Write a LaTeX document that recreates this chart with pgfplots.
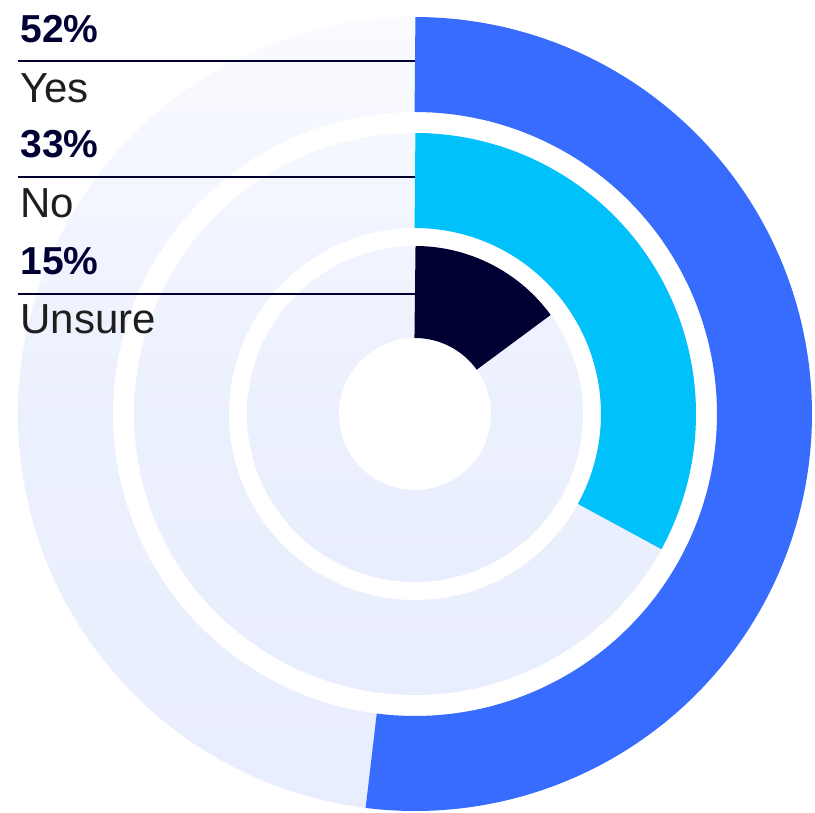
\documentclass[border=0pt]{standalone}
\usepackage{pgfplots}
\pgfplotsset{compat=1.18}
\usepgfplotslibrary{polar}
\usepackage{fontspec}
\setmainfont{Liberation Sans}
\definecolor{yesblue}{HTML}{386CFF}
\definecolor{nocyan}{HTML}{00C1FA}
\definecolor{navy}{HTML}{000033}
\definecolor{tracktop}{HTML}{FAFBFF}
\definecolor{trackbot}{HTML}{E9EEFE}
\definecolor{labelgray}{HTML}{1E1E1E}

\begin{document}
% 1 unit = 1 px of the 815x813 reference, origin at the centre of the rings
\begin{tikzpicture}[x=0.5pt,y=0.5pt]
\useasboundingbox (-415,-399) rectangle (400,414);
\begin{polaraxis}[
  at={(0,0)}, anchor=center,
  scale only axis, width=397pt, height=397pt,
  xmin=0, xmax=360, ymin=0, ymax=397,
  hide axis, clip=false,
  samples=240,
]
% background tracks (100%)
\addplot[draw=none, top color=tracktop, bottom color=trackbot, middle color=trackbot!86!tracktop, domain=0:360] {397};
\addplot[draw=none, fill=white, domain=0:360] {302};
\addplot[draw=none, top color=trackbot!25!tracktop, bottom color=trackbot, middle color=trackbot!86!tracktop, domain=0:360] {281};
\addplot[draw=none, fill=white, domain=0:360] {186};
\addplot[draw=none, top color=trackbot!50!tracktop, bottom color=trackbot, middle color=trackbot!86!tracktop, domain=0:360] {168};
\addplot[draw=none, fill=white, domain=0:360] {76};
% answers: Yes 52, No 33, Unsure 15 (percent, clockwise from the top)
\addplot[yesblue, line width=47.5pt, line cap=butt, domain=0:52] ({90-3.6*x}, {349.5});
\addplot[nocyan, line width=47.5pt, line cap=butt, domain=0:33] ({90-3.6*x}, {233.5});
\addplot[navy, line width=46pt, line cap=butt, domain=0:15] ({90-3.6*x}, {122});
\end{polaraxis}
\begin{scope}[font=\fontsize{21}{22}\selectfont]
\draw[navy, line width=1pt] (-397,353) -- (0,353);
\draw[navy, line width=1pt] (-397,237) -- (0,237);
\draw[navy, line width=1pt] (-397,120) -- (0,120);
\node[anchor=base west, inner sep=0pt, text=navy, font=\fontsize{19.5}{20}\selectfont\bfseries] at (-395,371) {52\%};
\node[anchor=base west, inner sep=0pt, text=labelgray] at (-395,311) {Yes};
\node[anchor=base west, inner sep=0pt, text=navy, font=\fontsize{19.5}{20}\selectfont\bfseries] at (-395,256) {33\%};
\node[anchor=base west, inner sep=0pt, text=labelgray] at (-395,196) {No};
\node[anchor=base west, inner sep=0pt, text=navy, font=\fontsize{19.5}{20}\selectfont\bfseries] at (-395,139) {15\%};
\node[anchor=base west, inner sep=0pt, text=labelgray] at (-395,80) {Unsure};
\end{scope}
\end{tikzpicture}
\end{document}
